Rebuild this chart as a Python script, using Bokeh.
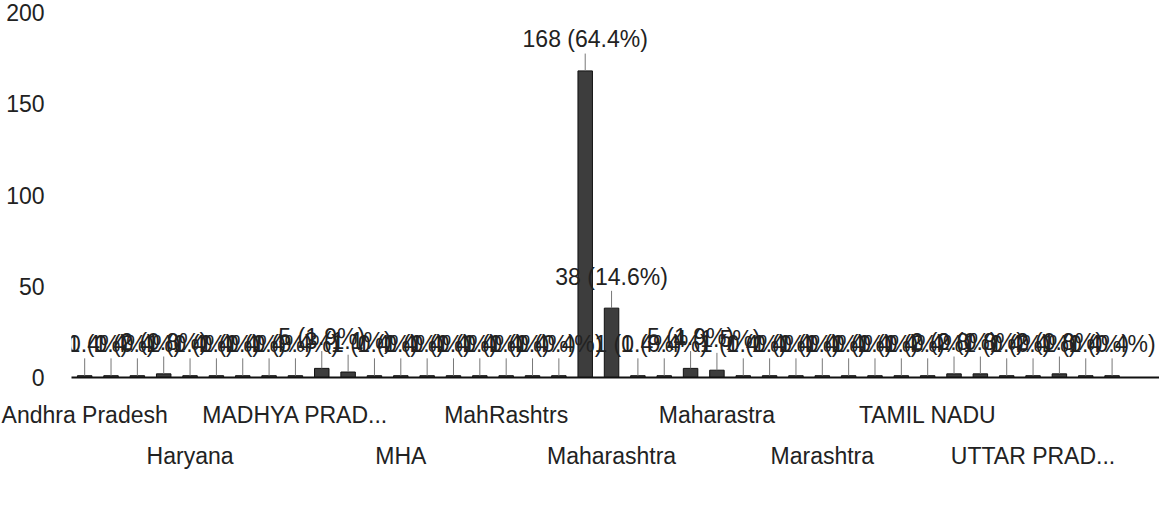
from bokeh.plotting import figure
from bokeh.models import Range1d, FixedTicker, LinearAxis, ColumnDataSource
from bokeh.core.properties import value
from bokeh.embed import file_html
from bokeh.resources import INLINE

# ---- data ----
values = [1, 1, 1, 2, 1, 1, 1, 1, 1, 5, 3, 1, 1, 1, 1, 1, 1, 1, 1,
          168, 38,
          1, 1, 5, 4, 1, 1, 1, 1, 1, 1, 1, 1, 2, 2, 1, 1, 2, 1, 1]
shown_labels = ["Andhra Pradesh", "Haryana", "MADHYA PRAD...", "MHA", "MahRashtrs",
                "Maharashtra", "Maharastra", "Marashtra", "TAMIL NADU", "UTTAR PRAD..."]
label_step = 4
y_ticks = [0, 50, 100, 150, 200]

FONT = "Liberation Sans"
FS = "23px"
total = sum(values)
idx = list(range(len(values)))
texts = [f"{v} ({v / total * 100:.1f}%)" for v in values]
leader = 9.5  # leader length in data units
src = ColumnDataSource(dict(
    x=idx, top=values, lead=[v + leader for v in values],
    ty=[v + leader + 0.6 for v in values], text=texts))

p = figure(width=1159, height=511, output_backend="svg", toolbar_location=None,
           x_range=Range1d(-0.5, 40.8), y_range=Range1d(0, 200),
           min_border_left=71, min_border_right=0, min_border_top=12, min_border_bottom=134,
           x_axis_type=None)
p.outline_line_color = None
p.xgrid.visible = False
p.ygrid.visible = False
p.background_fill_color = "white"
p.border_fill_color = "white"

p.vbar(x="x", top="top", width=0.55, source=src, fill_color="#3d3d3d", line_color="#111111")
p.segment(x0="x", y0="top", x1="x", y1="lead", source=src, line_color="#777777", line_width=1)
p.text(x="x", y="ty", text="text", source=src, text_align="center", text_baseline="bottom",
       text_font=value(FONT), text_font_size=FS, text_color="#222222")

# y axis
ya = p.yaxis[0]
ya.ticker = FixedTicker(ticks=y_ticks)
ya.axis_line_color = None
ya.major_tick_line_color = None
ya.major_tick_out = 0
ya.major_tick_in = 0
ya.minor_tick_line_color = None
ya.major_label_standoff = 27
ya.major_label_text_font = FONT
ya.major_label_text_font_size = FS
ya.major_label_text_color = "#222222"

# x axes: two staggered rows of category labels
positions = [i * label_step for i in range(len(shown_labels))]
row1 = {pos: lab for k, (pos, lab) in enumerate(zip(positions, shown_labels)) if k % 2 == 0}
row2 = {pos: lab for k, (pos, lab) in enumerate(zip(positions, shown_labels)) if k % 2 == 1}

ax1 = LinearAxis(ticker=FixedTicker(ticks=list(row1.keys())), major_label_overrides=row1)
ax1.axis_line_color = "#111111"
ax1.axis_line_width = 2
ax1.major_tick_line_color = None
ax1.minor_tick_line_color = None
ax1.major_label_standoff = 18
ax1.major_label_text_font = FONT
ax1.major_label_text_font_size = FS
ax1.major_label_text_color = "#222222"
p.add_layout(ax1, "below")

ax2 = LinearAxis(ticker=FixedTicker(ticks=list(row2.keys())), major_label_overrides=row2)
ax2.axis_line_color = None
ax2.major_tick_line_color = None
ax2.minor_tick_line_color = None
ax2.major_label_standoff = 6
ax2.major_label_text_font = FONT
ax2.major_label_text_font_size = FS
ax2.major_label_text_color = "#222222"
p.add_layout(ax2, "below")

open("out.html", "w").write(file_html(p, INLINE))
